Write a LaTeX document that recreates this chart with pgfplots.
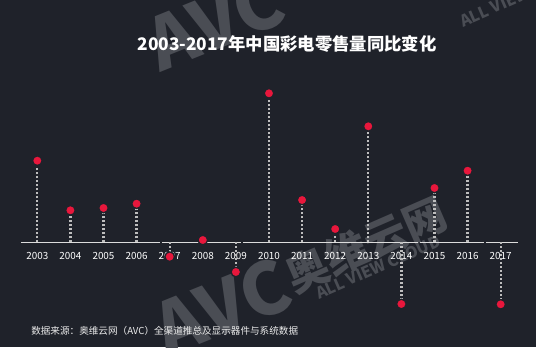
\documentclass[border=0pt]{standalone}
\usepackage{pgfplots}
\pgfplotsset{compat=1.18}
\usepackage{pgfplotstable}
\usepackage{fontspec}
\setmainfont{Noto Sans CJK SC}
\definecolor{bg}{HTML}{1F222A}
\definecolor{wm}{HTML}{4A4D54}
\definecolor{dotred}{HTML}{E8173C}
\definecolor{stem}{HTML}{BEBEBE}
\definecolor{base}{HTML}{DCDCDC}

\pgfplotstableread{
year val
2003 81.6
2004 32.0
2005 34.3
2006 38.6
2007 -14.4
2008 2.3
2009 -29.7
2010 149.0
2011 42.3
2012 13.3
2013 116.0
2014 -61.7
2015 54.3
2016 71.6
2017 -62.0
}\datatable

\begin{document}
\begin{tikzpicture}[x=0.75pt,y=0.75pt]
\useasboundingbox (0,0) rectangle (536,347);
\fill[bg] (0,0) rectangle (536,347);
\begin{scope}
\clip (0,0) rectangle (536,347);
\node[text=wm, rotate=22, font=\fontsize{54}{54}\bfseries] at (215,325) {AVC};
\node[text=wm, rotate=22, font=\fontsize{54}{54}\bfseries] at (222,40) {AVC};
\node[text=wm, rotate=23.6, font=\fontsize{32}{32}\bfseries] at (366,102) {奥维云网};
\node[text=wm, rotate=23.6, font=\fontsize{12}{12}\bfseries] at (378,80) {ALL VIEW CLOUD};
\node[text=wm, rotate=23.6, font=\fontsize{12}{12}\bfseries] at (522,352) {ALL VIEW CLOUD};
\end{scope}

\begin{axis}[
  at={(0,0)}, anchor=south west,
  scale only axis, width=402pt, height=260.25pt,
  xmin=2001.873, xmax=2018.067, ymin=-104.7, ymax=242.3,
  axis x line=middle, axis y line=none,
  axis line style={draw=none, -},
  xtick={2003,2004,2005,2006,2007,2008,2009,2010,2011,2012,2013,2014,2015,2016,2017},
  xticklabels={2003,2004,2005,2006,2007,2008,2009,2010,2011,2012,2013,2014,2015,2016,2017},
  ytick=\empty,
  major tick length=0pt,
  xticklabel style={font=\fontsize{7.4}{8}\selectfont, text=white, yshift=-4.3pt},
  clip=false,
]
\draw[base, line width=0.9pt] (axis cs:2002.507,0) -- (axis cs:2006.707,0);
\draw[base, line width=0.9pt] (axis cs:2006.767,0) -- (axis cs:2009.154,0);
\draw[base, line width=0.9pt] (axis cs:2009.214,0) -- (axis cs:2014.501,0);
\draw[base, line width=0.9pt] (axis cs:2014.562,0) -- (axis cs:2016.495,0);
\draw[base, line width=0.9pt] (axis cs:2016.556,0) -- (axis cs:2017.522,0);
\addplot[ycomb, stem, line width=1.7pt, dash pattern=on 1.5pt off 1.5pt] table[x=year,y=val]{\datatable};
\addplot[only marks, mark=*, mark size=3.6pt, mark options={fill=dotred, draw=bg, line width=1pt, solid}] table[x=year,y=val]{\datatable};
\end{axis}

\node[text=white, font=\fontsize{13}{15}\bfseries] at (287,303) {2003-2017年中国彩电零售量同比变化};
\node[anchor=base west, inner sep=0pt, text=white!85!gray, font=\fontsize{7.2}{8}\selectfont] at (31,13) {数据来源：奥维云网（AVC）全渠道推总及显示器件与系统数据};
\end{tikzpicture}
\end{document}
